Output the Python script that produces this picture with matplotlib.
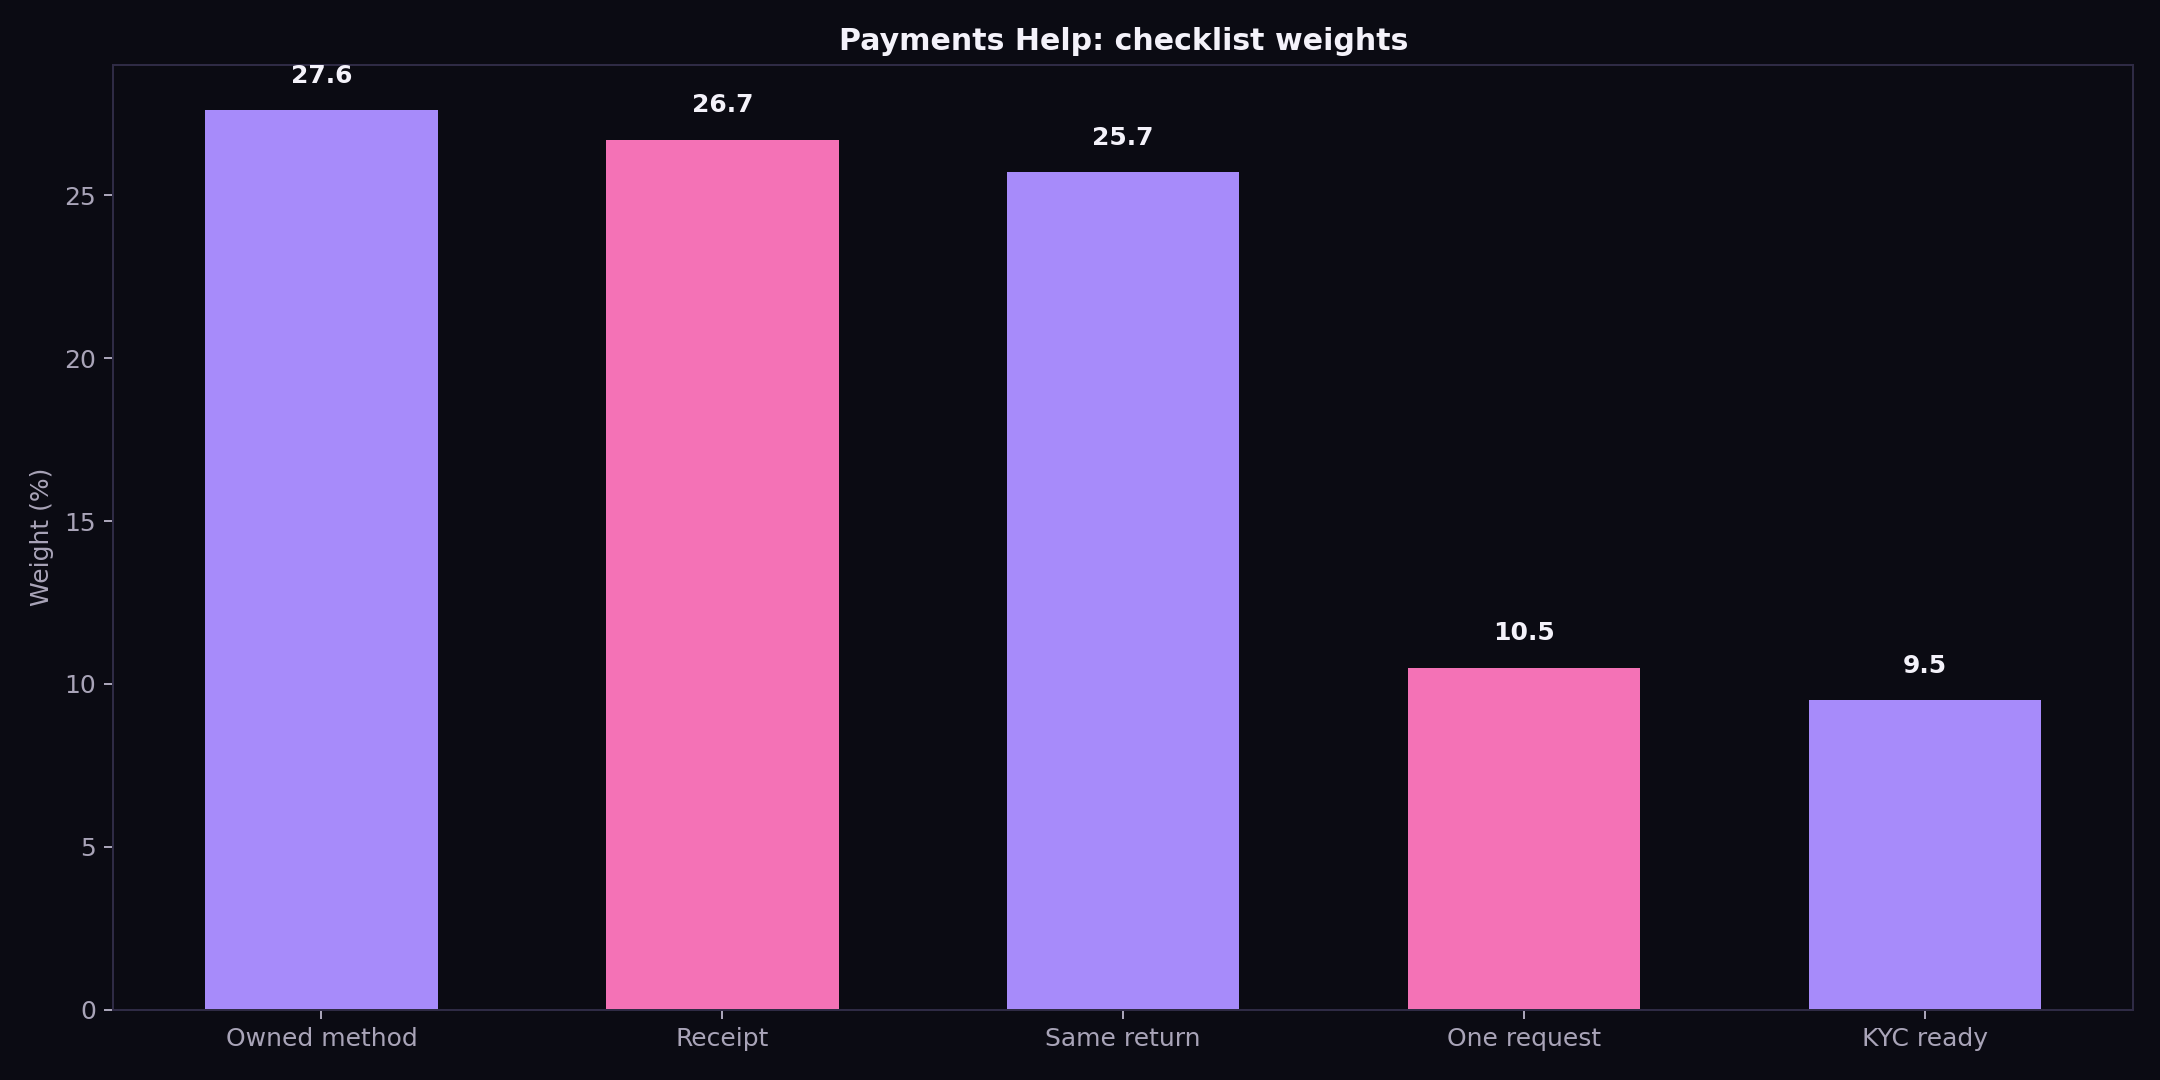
import matplotlib
matplotlib.use("Agg")
import matplotlib.pyplot as plt

categories = ["Owned method", "Receipt", "Same return", "One request", "KYC ready"]
values = [27.6, 26.7, 25.7, 10.5, 9.5]
colors = ["#a78bfa", "#f472b6", "#a78bfa", "#f472b6", "#a78bfa"]

BG = "#0b0b13"
SPINE = "#2f2b45"
TXT = "#a9a4b8"

plt.rcParams["font.family"] = ["DejaVu Sans"]
fig, ax = plt.subplots(figsize=(12, 6), dpi=180)
fig.patch.set_facecolor(BG)
ax.set_facecolor(BG)
fig.subplots_adjust(left=0.0525, right=0.9875, top=0.94, bottom=0.065)

x = range(len(categories))
bars = ax.bar(x, values, width=0.58, color=colors)
for xi, v in zip(x, values):
    ax.annotate(f"{v:.1f}", (xi, v), xytext=(0, 9), textcoords="offset points",
                ha="center", va="bottom", color="#f4f2fa", fontsize=10, fontweight="bold")

ax.set_ylim(0, 29)
ax.set_xticks(list(x))
ax.set_xticklabels(categories)
ax.tick_params(colors=TXT, labelsize=10)
for s in ax.spines.values():
    s.set_color(SPINE)
ax.set_ylabel("Weight (%)", color=TXT, fontsize=10)
ax.set_title("Payments Help: checklist weights", color="#f4f2fa", fontsize=12, fontweight="bold", pad=6)

fig.savefig("out.png", facecolor=BG)
